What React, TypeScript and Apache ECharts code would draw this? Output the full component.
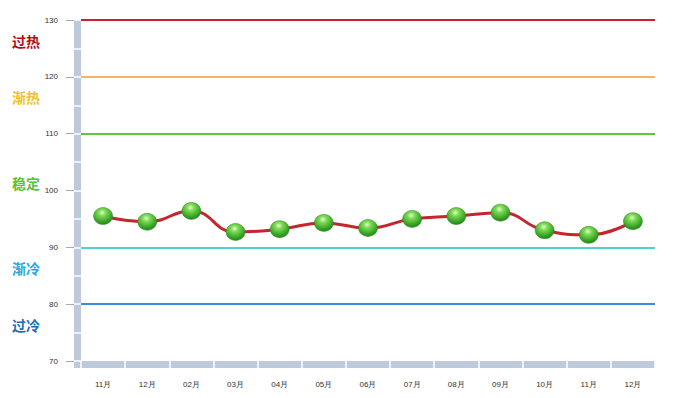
import React, { useEffect, useRef } from "react";
import * as echarts from "echarts";

const categories = ["11月", "12月", "02月", "03月", "04月", "05月", "06月", "07月", "08月", "09月", "10月", "11月", "12月"];
const values = [95.5, 94.5, 96.4, 92.7, 93.2, 94.3, 93.4, 95.0, 95.5, 96.1, 93.0, 92.2, 94.6];
const levelValues = [130, 120, 110, 90, 80];
const levelColors = ["#c8202c", "#f8b45a", "#62c832", "#4fd2d0", "#3b8ddb"];
const zoneNames = ["过热", "渐热", "稳定", "渐冷", "过冷"];
const zoneColors = ["#b50d1a", "#f2c12e", "#5cc22e", "#27a8de", "#1f6cb8"];
const zoneY = [42, 98, 184, 269, 326];

export default function App() {
  const ref = useRef<HTMLDivElement>(null);
  useEffect(() => {
    if (!ref.current) return;
    const chart = echarts.init(ref.current, undefined, { renderer: "svg" });
    const band = "#bccadb";
    const labelStyle = { fontSize: 8, color: "#333", fontFamily: "Liberation Sans" };
    chart.setOption({
      animation: false,
      grid: { left: 81, right: 23, top: 20, bottom: 37 },
      xAxis: [
        {
          type: "category",
          data: categories,
          boundaryGap: true,
          offset: 3.5,
          axisLine: { show: true, lineStyle: { color: band, width: 7, cap: "butt" } },
          axisTick: { show: false },
          axisLabel: { margin: 16, ...labelStyle },
          splitLine: { show: false },
        },
        {
          type: "category",
          data: categories,
          boundaryGap: true,
          position: "bottom",
          offset: 7,
          axisLine: { show: false },
          axisTick: { show: true, inside: true, length: 7, lineStyle: { color: "#ffffff", width: 1.5 } },
          axisLabel: { show: false },
          splitLine: { show: false },
        },
      ],
      yAxis: [
        {
          type: "value",
          min: 70,
          max: 130,
          interval: 10,
          position: "left",
          offset: 7,
          axisLine: { show: false },
          axisTick: { show: true, length: 8, lineStyle: { color: "#aaa" } },
          axisLabel: { margin: 16, ...labelStyle },
          splitLine: { show: false },
        },
        {
          type: "value",
          min: 70,
          max: 130,
          interval: 5,
          position: "left",
          offset: 3.5,
          axisLine: { show: true, lineStyle: { color: band, width: 7, cap: "butt" } },
          axisTick: { show: false },
          axisLabel: { show: false },
          splitLine: { show: false },
        },
        {
          type: "value",
          min: 70,
          max: 130,
          interval: 5,
          position: "left",
          offset: 7,
          axisLine: { show: false },
          axisTick: { show: true, inside: true, length: 7, lineStyle: { color: "#ffffff", width: 1.5 } },
          axisLabel: { show: false },
          splitLine: { show: false },
        },
      ],
      graphic: [
        { type: "rect", shape: { x: 74, y: 361, width: 7, height: 7 }, style: { fill: band } },
        ...zoneNames.map((n, i) => ({
          type: "text",
          left: 12,
          top: zoneY[i] - 8,
          style: {
            text: n,
            fill: zoneColors[i],
            font: "bold 14px 'Noto Sans CJK SC'",
          },
        })),
      ],
      series: [
        {
          type: "line",
          data: values,
          smooth: true,
          yAxisIndex: 0,
          xAxisIndex: 0,
          symbol: "circle",
          symbolSize: [19, 17],
          lineStyle: { color: "#c4262e", width: 3 },
          itemStyle: {
            color: {
              type: "radial",
              x: 0.45,
              y: 0.3,
              r: 0.75,
              colorStops: [
                { offset: 0, color: "#e2fbcf" },
                { offset: 0.25, color: "#7fdc55" },
                { offset: 0.7, color: "#38a528" },
                { offset: 1, color: "#217a18" },
              ],
            },
            borderColor: "#2a8420",
            borderWidth: 0.5,
          },
          z: 5,
          markLine: {
            silent: true,
            symbol: "none",
            label: { show: false },
            data: levelValues.map((v, i) => ({
              yAxis: v,
              lineStyle: { color: levelColors[i], width: 2, type: "solid" },
            })),
          },
        },
      ],
    });
    return () => chart.dispose();
  }, []);
  return <div ref={ref} style={{ width: 678, height: 398, position: "absolute", left: 0, top: 0 }} />;
}
